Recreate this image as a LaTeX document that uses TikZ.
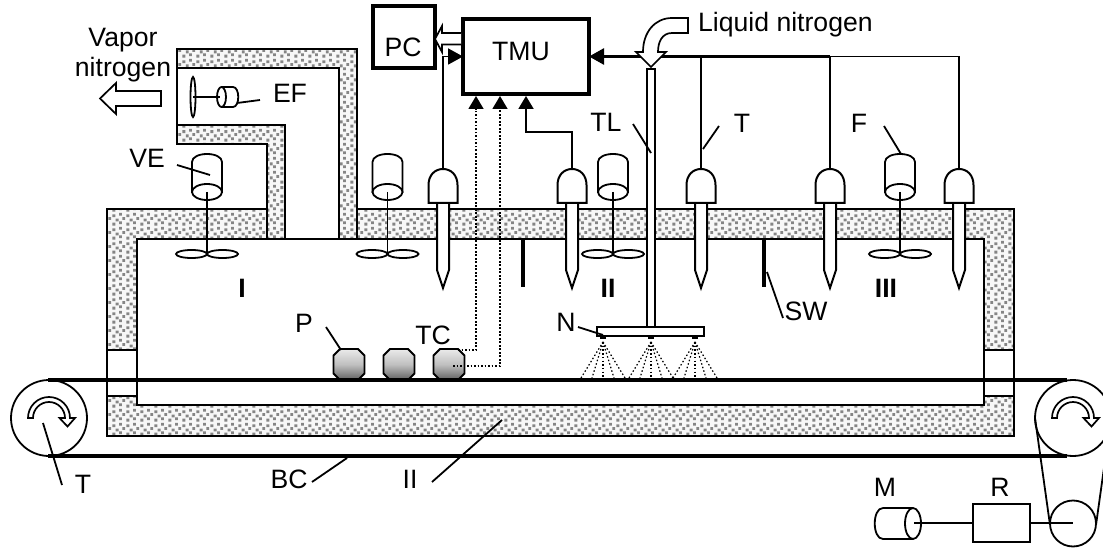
\documentclass[tikz,border=0pt]{standalone}
\usepackage{fontspec}
\setmainfont{Liberation Sans}
\usetikzlibrary{arrows.meta,patterns}
\pgfdeclarepatternformonly{insulgrain}{\pgfpointorigin}{\pgfqpoint{14pt}{14pt}}{\pgfqpoint{14pt}{14pt}}{%
  \pgfpathrectangle{\pgfqpoint{0.5pt}{0.5pt}}{\pgfqpoint{3pt}{3pt}}%
  \pgfpathrectangle{\pgfqpoint{7.5pt}{2pt}}{\pgfqpoint{3pt}{3pt}}%
  \pgfpathrectangle{\pgfqpoint{4pt}{5pt}}{\pgfqpoint{3pt}{3pt}}%
  \pgfpathrectangle{\pgfqpoint{11pt}{6.5pt}}{\pgfqpoint{3pt}{3pt}}%
  \pgfpathrectangle{\pgfqpoint{0.5pt}{9.5pt}}{\pgfqpoint{3pt}{3pt}}%
  \pgfpathrectangle{\pgfqpoint{7.5pt}{11pt}}{\pgfqpoint{3pt}{3pt}}%
  \pgfusepath{fill}}
\tikzset{
  insul/.style={preaction={fill=black!3},pattern=insulgrain,pattern color=black!48},
  wall/.style={line width=2pt,line join=miter},
  lab/.style={inner sep=0pt,anchor=base,font=\fontsize{26.6}{30}\selectfont},
  boldlab/.style={lab,font=\fontsize{26.6}{30}\selectfont\bfseries},
  leader/.style={line width=1.8pt},
  wire/.style={line width=1.9pt},
  wiretip/.style={-{Triangle[length=15pt,width=16pt]}},
  dotwire/.style={line width=1.5pt,dash pattern=on 1.6pt off 1.9pt},
  spray/.style={line width=1.2pt,dash pattern=on 1.5pt off 2.2pt},
  openarrow/.style={fill=white,draw,line width=1.7pt,line join=miter},
  belt/.style={line width=3.8pt},
  thin part/.style={line width=1.8pt},
  motor/.pic={
    \draw[thin part,fill=white] (-15,-30) .. controls (-15,-35) and (-8,-38) .. (0,-38)
       .. controls (8,-38) and (15,-35) .. (15,-30) -- (15,0) -- (-15,0) -- cycle;
    \draw[thin part,fill=white] (0,0) ellipse [x radius=15,y radius=8];
    \draw[thin part] (0,0) -- (0,62);
    \draw[thin part] (-15.5,62) ellipse [x radius=15.5,y radius=4];
    \draw[thin part] (15.5,62) ellipse [x radius=15.5,y radius=4];
  },
  sensor/.pic={
    \draw[line width=2pt,fill=white] (-6,34) -- (-6,101) -- (0,119) -- (6,101) -- (6,34);
    \draw[line width=2pt,fill=white] (-14.5,34) -- (-14.5,16) .. controls (-14.5,6) and (-8,0) .. (0,0)
       .. controls (8,0) and (14.5,6) .. (14.5,16) -- (14.5,34) -- cycle;
  },
  rotarrow/.pic={
    \draw[openarrow] (-21,0) .. controls (-21,-11.6) and (-11.6,-21) .. (0,-21)
       .. controls (11.6,-21) and (21,-11.6) .. (21,0) -- (26,0) -- (18.5,8.5) -- (10.5,0) -- (16,0)
       .. controls (16,-8.8) and (8.8,-16) .. (0,-16)
       .. controls (-8.8,-16) and (-16,-8.8) .. (-16,0) -- cycle;
  },
  parcel/.pic={
    \shadedraw[top color=black!8,bottom color=black!62,middle color=black!25,line width=1.8pt]
      (-9,-31) -- (9,-31) -- (15.5,-24.5) -- (15.5,-6.5) -- (9,0) -- (-9,0) -- (-15.5,-6.5) -- (-15.5,-24.5) -- cycle;
  },
  fan/.pic={
    \foreach \d in {-22,-11,0,11,22} \draw[spray] (0,5) -- (\d,41);
    \draw[line width=2.4pt] (-3,1) -- (3,1);
  }
}
\begin{document}
\begin{tikzpicture}[x=1pt,y=-1pt]
\useasboundingbox (0,0) rectangle (1103,548);
\clip (0,0) rectangle (1103,548);
% insulation
\path[insul] (107,209) rectangle (1014,436);
\path[insul] (177,49) -- (357,49) -- (357,239) -- (339,239) -- (339,68) -- (177,68) -- cycle;
\path[insul] (177,125) -- (285,125) -- (285,239) -- (267,239) -- (267,144) -- (177,144) -- cycle;
\fill[white] (137,239) rectangle (984,405);
\fill[white] (285.8,205) rectangle (338.2,238);
\fill[white] (177.8,144.8) rectangle (266.2,208.2);
\fill[white] (107.8,350) rectangle (136.2,395);
\fill[white] (984.8,350) rectangle (1013.2,395);
% housing outlines
\draw[wall] (267,209) -- (107,209) -- (107,436) -- (1014,436) -- (1014,209) -- (357,209);
\draw[wall] (137,239) -- (137,405) -- (984,405) -- (984,239) -- cycle;
\draw[wall] (107,350) -- (137,350) (107,395.5) -- (137,395.5);
\draw[wall] (984,350) -- (1014,350) (984,396) -- (1014,396);
\draw[wall] (285,239) -- (339,239);
% duct
\draw[wall] (267,239) -- (267,144) -- (177,144) -- (177,49) -- (357,49) -- (357,239);
\draw[wall] (177,68) -- (339,68) -- (339,239);
\draw[wall] (177,125) -- (285,125) -- (285,239);
% exhaust fan
\draw[thin part] (193,97) ellipse [x radius=2.5,y radius=20];
\draw[thin part] (193,97) -- (220,97);
\draw[thin part] (222,87) -- (233,87) .. controls (240,87) and (240,107) .. (233,107) -- (222,107);
\draw[thin part] (221.5,97) ellipse [x radius=4.5,y radius=10];
\coordinate (ef1) at (260,100); \coordinate (ef2) at (237,103);
\draw[leader] (ef1) -- (ef2);
\node[lab] (EF) at (290,103) {EF};
% vapor
\draw[openarrow] (161,91) -- (116,91) -- (116,83) -- (100,98.5) -- (116,114) -- (116,106) -- (161,106) -- cycle;
\node[lab] (vap1) at (123,47) {Vapor};
\node[lab] (vap2) at (123,77) {nitrogen};
% motors and sensors
\pic at (207,192) {motor};
\pic at (387.5,192) {motor};
\pic at (613,192) {motor};
\pic at (900,192) {motor};
\coordinate (s1) at (443,169);
\coordinate (s2) at (572,169);
\coordinate (s3) at (701,169);
\coordinate (s4) at (830,169);
\coordinate (s5) at (959,169);
\foreach \s in {s1,s2,s3,s4,s5} \pic at (\s) {sensor};
% partitions
\draw[line width=3.2pt] (523,239) -- (523,287);
\draw[line width=3.2pt] (764,239) -- (764,287);
% control boxes
\node[draw,line width=3.8pt,outer sep=0pt,inner sep=0pt,minimum width=126pt,minimum height=75pt,font=\fontsize{26.6}{30}\selectfont] (TMU) at (526,56.5) {\smash{\raisebox{-4.5pt}{TMU}}\kern10pt};
\node[draw,line width=3.2pt,outer sep=0pt,inner sep=0pt,minimum width=62pt,minimum height=62pt,font=\fontsize{26.6}{30}\selectfont] (PC) at (404,37) {\smash{\raisebox{-20pt}{PC}}\kern2pt};
% wires
\draw[wire,wiretip] (s1) |- (TMU.west);
\draw[line width=1.7pt] (s5) |- (s4 |- TMU.east);
\draw[line width=2.6pt,wiretip] (s4 |- TMU.east) -- (TMU.east);
\draw[wire] (s3) -- (s3 |- TMU.east);
\draw[wire] (s4) -- (s4 |- TMU.east);
\coordinate (a1) at (476,96); \coordinate (a2) at (500,96); \coordinate (a3) at (526,96);
\coordinate (tc1) at (458,350); \coordinate (tc2) at (453,366);
\draw[dotwire,-{Triangle[length=13pt,width=15pt]}] (tc1) -| (a1);
\draw[dotwire,-{Triangle[length=13pt,width=15pt]}] (tc2) -| (a2);
\draw[wire,-{Triangle[length=13pt,width=15pt]}] (s2) |- (526,132) -- (a3);
% PC arrow
\draw[openarrow] (461,33) -- (442,33) -- (442,26) -- (435,39) -- (442,52) -- (442,44.5) -- (461,44.5);
% liquid nitrogen arrow
\draw[openarrow] (688,18) -- (672,18) .. controls (655,18) and (643,32) .. (643,52) -- (636,52) -- (651,67) -- (666,52) -- (658,52)
   .. controls (658,42) and (662,33) .. (672,33) -- (688,33) -- cycle;
\node[lab,anchor=base west] (LN) at (698,32) {Liquid nitrogen};
% transfer line + nozzle bar
\draw[line width=1.8pt,fill=white] (647,327) -- (647,69) -- (655,69) -- (655,327);
\draw[line width=2pt,fill=white] (597,327) rectangle (704,336);
\foreach \x in {603,651,695} \pic at (\x,337) {fan};
% parcels, belt
\pic at (349,380) {parcel};
\pic at (399,380) {parcel};
\pic at (449,380) {parcel};
\draw[belt] (48,380) -- (1067,380);
\draw[belt] (48,456) -- (1067,456);
% dotted ends over the parcel
\draw[dotwire] (tc1) -- (476,350);
\draw[dotwire] (tc2) -- (500,366);
% pulleys
\draw[thin part] (49,418) circle [radius=38];
\draw[thin part] (1073,418) circle [radius=38];
\pic at (49,418) {rotarrow};
\pic at (1073,418) {rotarrow};
\draw[thin part] (1073,523.5) circle [radius=23];
\draw[thin part] (1035,418) -- (1050,525);
\draw[thin part] (1111,418) -- (1096,525);
% motor and reducer
\node[draw,line width=1.9pt,outer sep=0pt,inner sep=0pt,minimum width=57pt,minimum height=38pt] (R) at (1001.5,523) {};
\draw[thin part] (R.east) -- (1073,523);
\draw[thin part] (883,508) .. controls (872,508) and (872,539) .. (883,539) -- (913,539);
\draw[thin part] (883,508) -- (913,508);
\draw[thin part] (913,523.5) ellipse [x radius=8,y radius=15.5];
\draw[thin part] (914,523) -- (R.west);
% labels
\node[lab] (M) at (885,496) {M};
\node[lab] (Rl) at (1000,496) {R};
\node[boldlab] (z1) at (242,297) {I};
\node[boldlab] (z2) at (608,297) {II};
\node[boldlab] (z3) at (886,297) {III};
\node[lab] (VE) at (147,168) {VE};
\coordinate (ve1) at (177,165); \coordinate (ve2) at (210,175);
\draw[leader] (ve1) -- (ve2);
\node[lab] (TL) at (606,132) {TL};
\coordinate (tl1) at (633,124); \coordinate (tl2) at (651,153);
\draw[leader] (tl1) -- (tl2);
\node[lab] (T1) at (742,133) {T};
\coordinate (t1) at (703,149); \coordinate (t2) at (719,126);
\draw[leader] (t1) -- (t2);
\node[lab] (F) at (859,133) {F};
\coordinate (f1) at (884,126); \coordinate (f2) at (901,154);
\draw[leader] (f1) -- (f2);
\node[lab] (P) at (304,332) {P};
\coordinate (p1) at (326,327); \coordinate (p2) at (341,350);
\draw[leader] (p1) -- (p2);
\node[lab] (TC) at (433,344) {TC};
\node[lab] (N) at (566,331) {N};
\coordinate (n1) at (578,327); \coordinate (n2) at (603,335);
\draw[leader] (n1) -- (n2);
\node[lab] (SW) at (806,320) {SW};
\coordinate (sw1) at (767,272); \coordinate (sw2) at (783,318);
\draw[leader] (sw1) -- (sw2);
\node[lab] (T2) at (83,493) {T};
\coordinate (tb1) at (43,423); \coordinate (tb2) at (62,485);
\draw[leader] (tb1) -- (tb2);
\node[lab] (BC) at (289,488) {BC};
\coordinate (bc1) at (312,482); \coordinate (bc2) at (347,458);
\draw[leader] (bc1) -- (bc2);
\node[lab] (IIb) at (410,488) {II};
\coordinate (ii1) at (432,482); \coordinate (ii2) at (502,420);
\draw[leader] (ii1) -- (ii2);
\end{tikzpicture}
\end{document}
